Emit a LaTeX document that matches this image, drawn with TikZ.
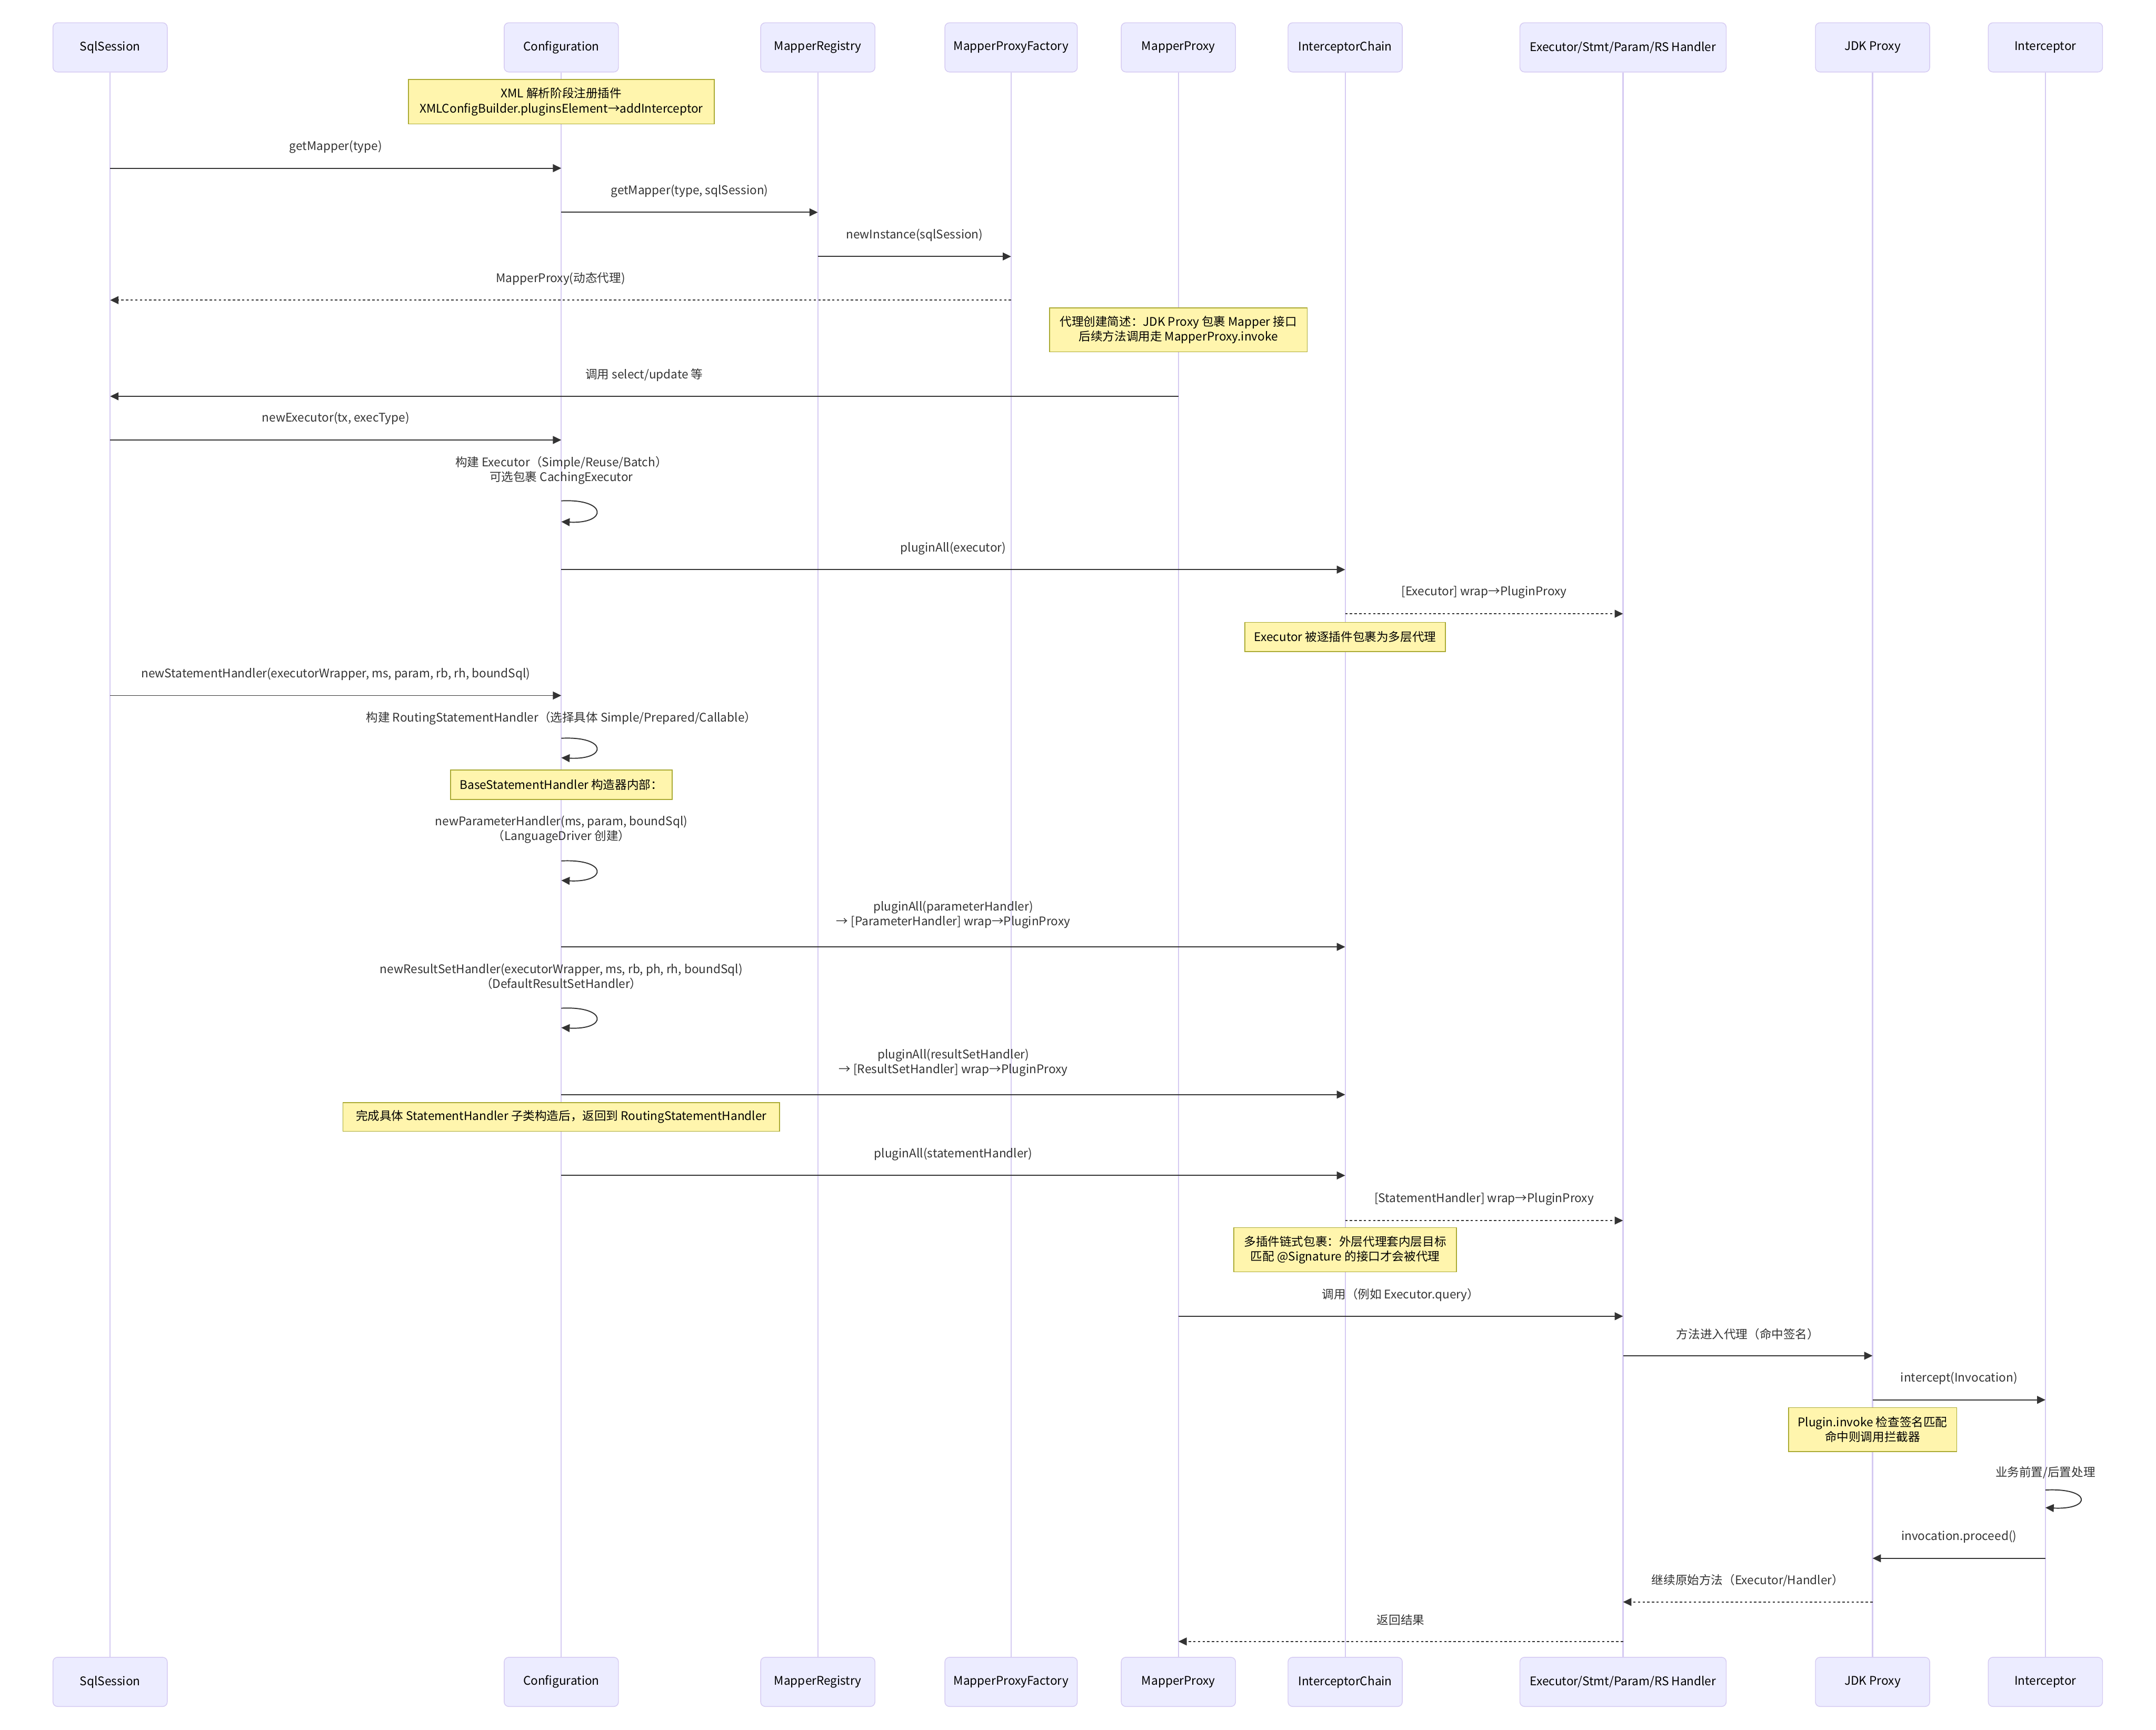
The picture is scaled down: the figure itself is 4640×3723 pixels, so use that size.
\documentclass[tikz,border=0pt]{standalone}
\usepackage{fontspec}
\setmainfont{Noto Sans CJK SC}
\usetikzlibrary{arrows.meta}
\definecolor{actorbg}{HTML}{ECECFF}
\definecolor{actorln}{HTML}{D5CAF2}
\definecolor{notebg}{HTML}{FFF5AD}
\definecolor{noteln}{HTML}{AAAA33}
\definecolor{msgcol}{HTML}{333333}

\begin{document}
\begin{tikzpicture}[x=0.25pt, y=-0.25pt, font=\fontsize{6.4}{8}\selectfont,
    actor/.style={draw=actorln, fill=actorbg, rounded corners=2.5pt, minimum width=61.5pt, minimum height=26.5pt, line width=0.4pt, text=black},
    life/.style={draw=actorln, line width=0.6pt},
    note/.style={draw=noteln, fill=notebg, line width=0.45pt, text=black, align=center, inner sep=0pt},
    msg/.style={draw=msgcol, line width=0.55pt, -{Triangle[length=4.5pt, width=4.2pt]}},
    reply/.style={msg, dash pattern=on 1.25pt off 1.25pt},
    txt/.style={text=msgcol, align=center},
    lbl/.style={txt, midway, yshift=11.5pt},
    lbltwo/.style={txt, midway, yshift=17.25pt}]
    \useasboundingbox (0,0) rectangle (4640,3723);
    % participants, en haut et en bas
    \node[actor] (sqlT) at (237,102) {SqlSession};
    \node[actor] (cfgT) at (1208,102) {Configuration};
    \node[actor] (regT) at (1760,102) {MapperRegistry};
    \node[actor, minimum width=71.25pt] (facT) at (2176,102) {MapperProxyFactory};
    \node[actor] (mpT) at (2536,102) {MapperProxy};
    \node[actor] (icT) at (2895,102) {InterceptorChain};
    \node[actor, minimum width=111pt] (exT) at (3493,102) {Executor/Stmt/Param/RS Handler};
    \node[actor] (jdkT) at (4030,102) {JDK Proxy};
    \node[actor] (intT) at (4402,102) {Interceptor};
    \node[actor] (sqlB) at (237,3620) {SqlSession};
    \node[actor] (cfgB) at (1208,3620) {Configuration};
    \node[actor] (regB) at (1760,3620) {MapperRegistry};
    \node[actor, minimum width=71.25pt] (facB) at (2176,3620) {MapperProxyFactory};
    \node[actor] (mpB) at (2536,3620) {MapperProxy};
    \node[actor] (icB) at (2895,3620) {InterceptorChain};
    \node[actor, minimum width=111pt] (exB) at (3493,3620) {Executor/Stmt/Param/RS Handler};
    \node[actor] (jdkB) at (4030,3620) {JDK Proxy};
    \node[actor] (intB) at (4402,3620) {Interceptor};
    \draw[life] (sqlT) -- (sqlB) (cfgT) -- (cfgB) (regT) -- (regB) (facT) -- (facB) (mpT) -- (mpB);
    \draw[life] (icT) -- (icB) (exT) -- (exB) (jdkT) -- (jdkB) (intT) -- (intB);

    % creation du proxy
    \node[note, minimum width=164.5pt, minimum height=24pt] (xmlNote) at (cfgT |- 0,219) {XML 解析阶段注册插件\\XMLConfigBuilder.pluginsElement→addInterceptor};
    \draw[msg] (sqlT |- 0,362) -- node[lbl] {getMapper(type)} (cfgT |- 0,362);
    \draw[msg] (cfgT |- 0,457) -- node[lbl] {getMapper(type, sqlSession)} (regT |- 0,457);
    \draw[msg] (regT |- 0,552) -- node[lbl] {newInstance(sqlSession)} (facT |- 0,552);
    \draw[reply] (facT |- 0,646) -- node[lbl] {MapperProxy(动态代理)} (sqlT |- 0,646);
    \node[note, minimum width=138.75pt, minimum height=23.75pt] (proxyNote) at (mpT |- 0,710) {代理创建简述：JDK Proxy 包裹 Mapper 接口\\后续方法调用走 MapperProxy.invoke};
    \draw[msg] (mpT |- 0,853) -- node[lbl] {调用 select/update 等} (sqlT |- 0,853);

    % Executor
    \draw[msg] (sqlT |- 0,947) -- node[lbl] {newExecutor(tx, execType)} (cfgT |- 0,947);
    \node[txt] at (cfgT |- 0,1012) {构建 Executor（Simple/Reuse/Batch）\\可选包裹 CachingExecutor};
    \draw[msg] (cfgT |- 0,1078) .. controls +(100,-5) and +(100,5) .. (cfgT |- 0,1123);
    \draw[msg] (cfgT |- 0,1226) -- node[lbl] {pluginAll(executor)} (icT |- 0,1226);
    \draw[reply] (icT |- 0,1321) -- node[lbl] {[Executor] wrap→PluginProxy} (exT |- 0,1321);
    \node[note, minimum width=108pt, minimum height=15.75pt] (execNote) at (icT |- 0,1371) {Executor 被逐插件包裹为多层代理};

    % StatementHandler
    \draw[msg] (sqlT |- 0,1497) -- node[lbl] {newStatementHandler(executorWrapper, ms, param, rb, rh, boundSql)} (cfgT |- 0,1497);
    \node[txt] at (cfgT |- 0,1546) {构建 RoutingStatementHandler（选择具体 Simple/Prepared/Callable）};
    \draw[msg] (cfgT |- 0,1589) .. controls +(100,-5) and +(100,5) .. (cfgT |- 0,1631);
    \node[note, minimum width=119.25pt, minimum height=16pt] (baseNote) at (cfgT |- 0,1689) {BaseStatementHandler 构造器内部：};
    \node[txt] at (cfgT |- 0,1785) {newParameterHandler(ms, param, boundSql)\\（LanguageDriver 创建）};
    \draw[msg] (cfgT |- 0,1853) .. controls +(100,-5) and +(100,5) .. (cfgT |- 0,1895);
    \draw[msg] (cfgT |- 0,2038) -- node[lbltwo] {pluginAll(parameterHandler)\\→ [ParameterHandler] wrap→PluginProxy} (icT |- 0,2038);
    \node[txt] at (cfgT |- 0,2102) {newResultSetHandler(executorWrapper, ms, rb, ph, rh, boundSql)\\（DefaultResultSetHandler）};
    \draw[msg] (cfgT |- 0,2170) .. controls +(100,-5) and +(100,5) .. (cfgT |- 0,2212);
    \draw[msg] (cfgT |- 0,2356) -- node[lbltwo] {pluginAll(resultSetHandler)\\→ [ResultSetHandler] wrap→PluginProxy} (icT |- 0,2356);
    \node[note, minimum width=235pt, minimum height=15.5pt] (routeNote) at (cfgT |- 0,2404) {完成具体 StatementHandler 子类构造后，返回到 RoutingStatementHandler};
    \draw[msg] (cfgT |- 0,2530) -- node[lbl] {pluginAll(statementHandler)} (icT |- 0,2530);
    \draw[reply] (icT |- 0,2627) -- node[lbl] {[StatementHandler] wrap→PluginProxy} (exT |- 0,2627);
    \node[note, minimum width=119.75pt, minimum height=23.75pt] (chainNote) at (icT |- 0,2690) {多插件链式包裹：外层代理套内层目标\\匹配 @Signature 的接口才会被代理};

    % appel intercepte
    \draw[msg] (mpT |- 0,2833) -- node[lbl] {调用（例如 Executor.query）} (exT |- 0,2833);
    \draw[msg] (exT |- 0,2918) -- node[lbl] {方法进入代理（命中签名）} (jdkT |- 0,2918);
    \draw[msg] (jdkT |- 0,3013) -- node[lbl] {intercept(Invocation)} (intT |- 0,3013);
    \node[note, minimum width=90.5pt, minimum height=23.75pt] (invokeNote) at (jdkT |- 0,3077) {Plugin.invoke 检查签名匹配\\命中则调用拦截器};
    \node[txt] at (intT |- 0,3170) {业务前置/后置处理};
    \draw[msg] (intT |- 0,3207) .. controls +(100,-5) and +(100,5) .. (intT |- 0,3245);
    \draw[msg] (intT |- 0,3354) -- node[lbl] {invocation.proceed()} (jdkT |- 0,3354);
    \draw[reply] (jdkT |- 0,3448) -- node[lbl] {继续原始方法（Executor/Handler）} (exT |- 0,3448);
    \draw[reply] (exT |- 0,3533) -- node[lbl] {返回结果} (mpT |- 0,3533);
\end{tikzpicture}
\end{document}
